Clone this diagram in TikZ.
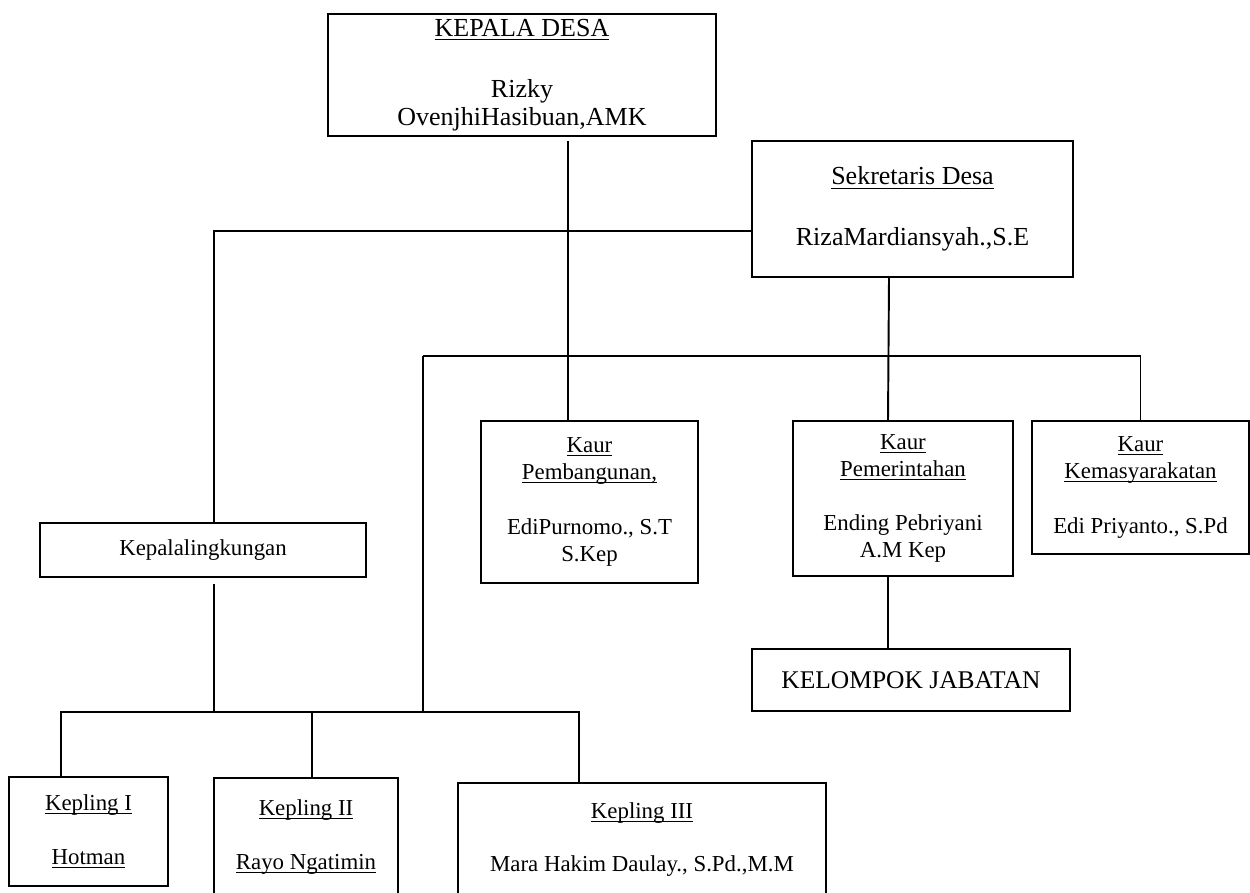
\documentclass[tikz,border=0pt]{standalone}
\usepackage{fontspec}
\setmainfont{Liberation Serif}
\usepackage{amsmath}
\usetikzlibrary{positioning, calc}

\newcommand{\judul}[1]{\underline{\smash[b]{#1}}}
\newcommand{\fkades}{\fontsize{14.8pt}{16pt}\selectfont}
\newcommand{\fkaur}{\fontsize{13pt}{15.4pt}\selectfont}

\tikzset{
    orgbox/.style={draw, rectangle, line width=1.1pt, inner sep=0pt, align=center},
    kadesbox/.style={orgbox, font=\fkades},
    kaurbox/.style={orgbox, font=\fkaur},
    keplingbox/.style={orgbox, font=\fkaur},
    garis/.style={line width=1.1pt},
}

\begin{document}
\begin{tikzpicture}[x=0.02cm, y=-0.02cm]
    \useasboundingbox (0,0) rectangle (1250,892);

    % Kepala desa dan sekretaris
    \node[kadesbox, minimum width=7.76cm, minimum height=2.44cm] (kades) at (522,75)
        {\judul{KEPALA DESA}\\[19pt] Rizky\\ OvenjhiHasibuan,AMK};
    \node[kadesbox, minimum width=6.42cm, minimum height=2.72cm] (sekdes) at (912.5,209)
        {\judul{Sekretaris Desa}\\[18.5pt] RizaMardiansyah.,S.E};

    % Kaur
    \node[kaurbox, minimum width=4.34cm, minimum height=3.24cm] (kaurpb) at (589.5,502)
        {\judul{Kaur}\\ \judul{Pembangunan,}\\[15.5pt] EdiPurnomo., S.T\\ S.Kep};
    \node[kaurbox, minimum width=4.4cm, minimum height=3.1cm] (kaurpm) at (903,498.5)
        {\judul{Kaur}\\ \judul{Pemerintahan}\\[15.5pt] Ending Pebriyani\\ A.M Kep};
    \node[kaurbox, minimum width=4.34cm, minimum height=2.66cm] (kaurkm) at (1140.5,487.5)
        {\judul{Kaur}\\ \judul{Kemasyarakatan}\\[16pt] Edi Priyanto., S.Pd};
    \node[kadesbox, font=\fontsize{14.5pt}{16pt}\selectfont, minimum width=6.36cm, minimum height=1.24cm] (kelompok) at (911,680)
        {KELOMPOK JABATAN};

    % Kepala lingkungan
    \node[kaurbox, minimum width=6.52cm, minimum height=1.08cm] (kaling) at (203,550) {Kepalalingkungan};
    \node[keplingbox, minimum width=3.18cm, minimum height=2.18cm] (kep1) at (88.5,831.5)
        {\judul{Kepling I}\\[15.3pt] \judul{Hotman}};
    \node[keplingbox, minimum width=3.68cm, minimum height=2.36cm] (kep2) at (306,837)
        {\judul{Kepling II}\\[15.3pt] \judul{Rayo Ngatimin}};
    \node[keplingbox, minimum width=7.36cm, minimum height=2.26cm] (kep3) at (642,839.5)
        {\judul{Kepling III}\\[15.3pt] Mara Hakim Daulay., S.Pd.,M.M};

    % Garis atas
    \draw[garis] ($(kades.south)+(46,4)$) -- ($(kaurpb.north)+(-21.5,0)$);
    \draw[garis] ($(sekdes.west)+(0,22)$) -| ($(kaling.north)+(11,0)$);
    \coordinate (busA) at (423,356);
    \draw[garis] (busA) -- (busA -| kaurkm.north) -- (kaurkm.north);
    \draw[garis] ($(sekdes.south)+(-23.5,0)$) -- ($(kaurpm.north)+(-15,0)$);
    \draw[garis] ($(kaurpm.south)+(-15,0)$) -- ($(kelompok.north)+(-23,0)$);

    % Garis bawah
    \coordinate (busB) at (61,712);
    \draw[garis] (busB |- kep1.north) -- (busB) -- ++(518,0) -- ($(kep3.north)+(-63,0)$);
    \draw[garis] (busA) -- (busA |- busB);
    \draw[garis] ($(kaling.south)+(11,6)$) -- ++(0,129);
    \draw[garis] ($(kep2.north)+(6,0)$) -- ++(0,-66);
\end{tikzpicture}
\end{document}
